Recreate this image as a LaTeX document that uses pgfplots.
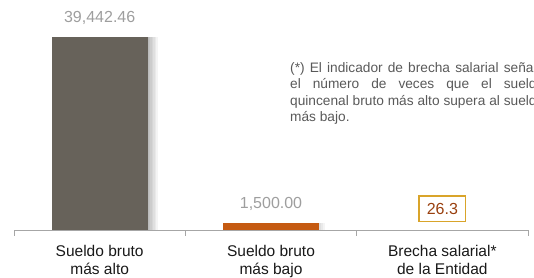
\documentclass[border=0pt]{standalone}
\usepackage{fontspec}
\setmainfont{Liberation Sans}
\usepackage{pgfplots}
\usepackage{pgfplotstable}
\pgfplotsset{compat=1.18}

\definecolor{barA}{HTML}{67625A}
\definecolor{barB}{HTML}{C55A11}
\definecolor{valgray}{HTML}{9E9E9E}
\definecolor{axgray}{HTML}{A6A6A6}
\definecolor{boxgold}{HTML}{D9A42A}
\definecolor{boxtext}{HTML}{99400F}
\definecolor{notegray}{HTML}{595959}

\pgfplotstableread{
x y lab
0 39442.46 39,442.46
}\alto
\pgfplotstableread{
x y lab
1 1500.00 1,500.00
}\bajo

\begin{document}
\begin{tikzpicture}[x=1pt,y=1pt]
\begin{axis}[
  scale only axis, width=514pt, height=193pt,
  xmin=-0.5, xmax=2.5, ymin=0, ymax=39442.46,
  axis x line*=bottom, axis y line=none,
  x axis line style={draw=axgray, line width=0.9pt},
  xtick={0,1,2},
  xticklabels={{Sueldo bruto\\más alto},{Sueldo bruto\\más bajo},{Brecha salarial*\\de la Entidad}},
  major tick length=0pt,
  minor xtick={-0.5,0.5,1.5,2.5},
  minor tick length=5.5pt,
  tick align=outside,
  minor tick style={draw=axgray, line width=0.9pt},
  xticklabel style={align=center, font=\fontsize{15.5}{18}\selectfont, text=black!90, anchor=north, inner sep=0pt, yshift=-15pt},
  clip=false,
  shadowbar/.style={ybar, bar width=96pt, fill=black, draw=none, fill opacity=0.045, forget plot},
]
% soft shadows (same data, shifted)
\addplot[shadowbar, bar shift=1pt] table[x=x, y=y] {\alto};
\addplot[shadowbar, bar shift=2.5pt] table[x=x, y=y] {\alto};
\addplot[shadowbar, bar shift=4pt] table[x=x, y=y] {\alto};
\addplot[shadowbar, bar shift=5.5pt] table[x=x, y=y] {\alto};
\addplot[shadowbar, bar shift=7pt] table[x=x, y=y] {\alto};
\addplot[shadowbar, bar shift=8.5pt] table[x=x, y=y] {\alto};
\addplot[shadowbar, bar shift=10pt] table[x=x, y=y] {\alto};
\addplot[shadowbar, bar shift=2pt] table[x=x, y=y] {\bajo};
\addplot[shadowbar, bar shift=4pt] table[x=x, y=y] {\bajo};
\addplot[shadowbar, bar shift=6pt] table[x=x, y=y] {\bajo};
\addplot[ybar, bar shift=0pt, bar width=96pt, fill=barA, draw=none,
  nodes near coords, point meta=explicit symbolic,
  every node near coord/.append style={anchor=base, yshift=14pt, text=valgray, font=\fontsize{16}{19}\selectfont}]
  table[x=x, y=y, meta=lab] {\alto};
\addplot[ybar, bar shift=0pt, bar width=96pt, fill=barB, draw=none,
  nodes near coords, point meta=explicit symbolic,
  every node near coord/.append style={anchor=base, yshift=14pt, text=valgray, font=\fontsize{16}{19}\selectfont}]
  table[x=x, y=y, meta=lab] {\bajo};
\addplot[draw=none, mark=none, nodes near coords, point meta=explicit symbolic,
  every node near coord/.append style={anchor=center, yshift=21.5pt, draw=boxgold, line width=1.5pt, text=boxtext, minimum width=46.5pt, minimum height=25.5pt, inner sep=0pt, font=\fontsize{16}{19}\selectfont}]
  coordinates {(2,0) [26.3]};
\coordinate (O) at (axis cs:-0.5,0);
\end{axis}
\path[use as bounding box] (O) ++(-14,-47) rectangle ++(534,277);
\node[anchor=north west, text width=254pt, align=justify, inner sep=0pt, text=notegray,
  font=\fontsize{13.7}{16.5}\selectfont] at ([shift={(276,168)}]O)
  {(*) El indicador de brecha salarial señala\linebreak el número de veces que el sueldo\linebreak quincenal bruto más alto supera al sueldo\linebreak más bajo.};
\end{tikzpicture}
\end{document}
